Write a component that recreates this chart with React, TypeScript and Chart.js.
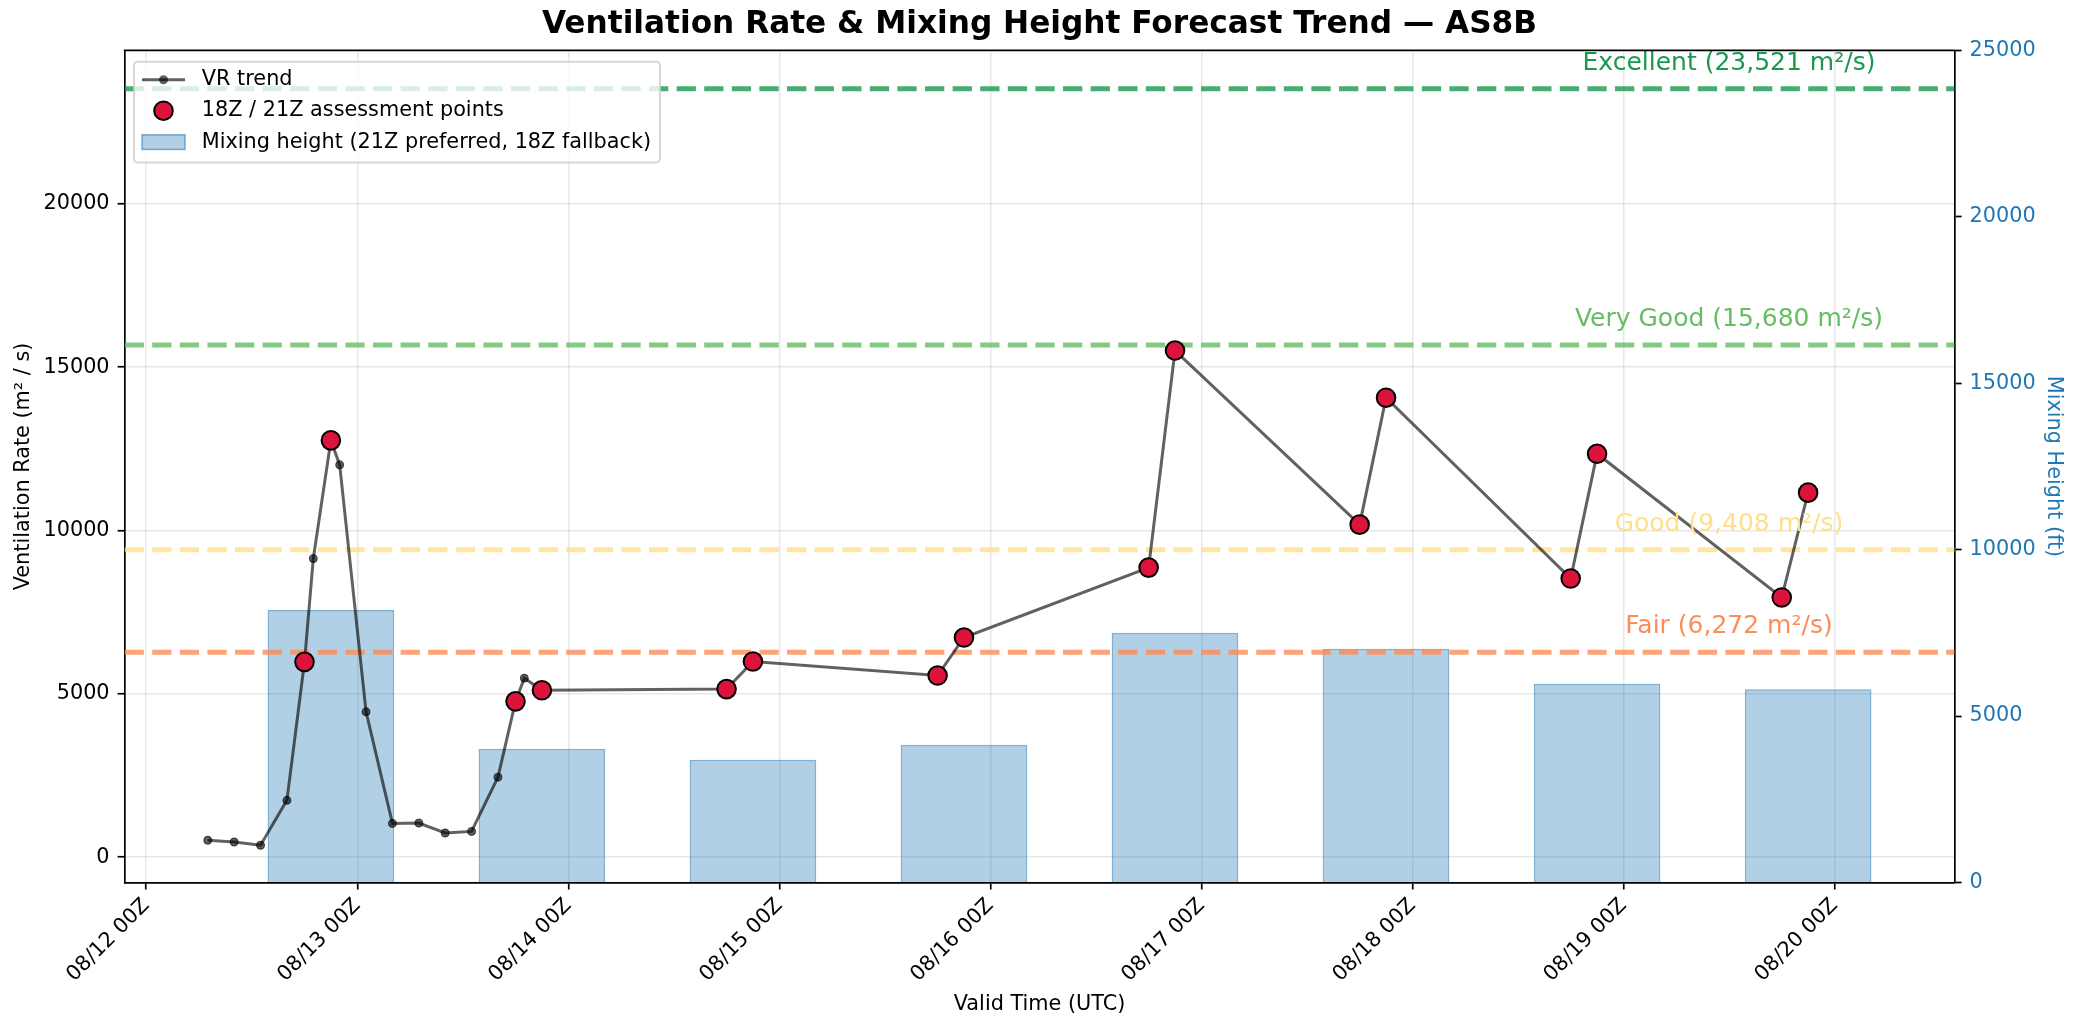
import { useEffect, useRef } from 'react';
import Chart from 'chart.js/auto';

// VR trend + 18Z/21Z assessment points + mixing-height bars, AS8B.
const FONT = "'DejaVu Sans', 'Noto Sans', sans-serif";
const BLUE = '#1f77b4';
const GRID = 'rgba(176,176,176,0.3)';

// x values are hours since 08/12 00Z
const VR_HOURS = [7, 10, 13, 16, 18, 19, 21, 22, 25, 28, 31, 34, 37, 40, 42, 43, 45, 66, 69, 90, 93, 114, 117, 138, 141, 162, 165, 186, 189];
const VR_VALUES = [520, 465, 365, 1740, 5980, 9140, 12760, 12010, 4450, 1035, 1045, 740, 790, 2450, 4770, 5480, 5110, 5145, 5990, 5560, 6725, 8865, 15510, 10180, 14065, 8530, 12350, 7950, 11160];

const ASSESS_HOURS = [18, 21, 42, 45, 66, 69, 90, 93, 114, 117, 138, 141, 162, 165, 186, 189];
const ASSESS_VALUES = [5980, 12760, 4770, 5110, 5145, 5990, 5560, 6725, 8865, 15510, 10180, 14065, 8530, 12350, 7950, 11160];

const MIX_HOURS = [21, 45, 69, 93, 117, 141, 165, 189];
const MIX_HEIGHTS = [8190, 4020, 3690, 4140, 7505, 7025, 5975, 5805];

const THRESH_NAMES = ['Excellent', 'Very Good', 'Good', 'Fair'];
const THRESH_VALUES = [23521, 15680, 9408, 6272];
const THRESH_COLORS = ['#1a9850', '#66bd63', '#fee08b', '#fc8d59'];
const THRESH_LINE = ['rgba(26,152,80,0.8)', 'rgba(102,189,99,0.8)', 'rgba(254,224,139,0.8)', 'rgba(252,141,89,0.8)'];
const LABEL_HOUR = 180;

const X_TICKS = [0, 24, 48, 72, 96, 120, 144, 168, 192];
const X_LABELS = ['08/12 00Z', '08/13 00Z', '08/14 00Z', '08/15 00Z', '08/16 00Z', '08/17 00Z', '08/18 00Z', '08/19 00Z', '08/20 00Z'];
const Y_TICKS = [0, 5000, 10000, 15000, 20000];
const Y2_TICKS = [0, 5000, 10000, 15000, 20000, 25000];

const X_MIN = -2.46;
const X_MAX = 205.66;
const Y_MIN = -775;
const Y_MAX = 24697;
const Y2_MIN = 0;
const Y2_MAX = 25000;

const LEGEND_LABELS = ['VR trend', '18Z / 21Z assessment points', 'Mixing height (21Z preferred, 18Z fallback)'];

const fmt = (n: number) => n.toLocaleString('en-US');

const framePlugin = {
  id: 'frameTop',
  afterDraw(chart: any) {
    const { ctx, chartArea: a } = chart;
    ctx.save();
    ctx.strokeStyle = '#000';
    ctx.lineWidth = 1.7;
    ctx.beginPath();
    ctx.moveTo(a.left - 0.85, a.top);
    ctx.lineTo(a.right + 0.85, a.top);
    ctx.stroke();
    ctx.restore();
  },
};

const thresholdLabels = {
  id: 'thresholdLabels',
  afterDatasetsDraw(chart: any) {
    const { ctx, scales } = chart;
    ctx.save();
    ctx.font = `25px ${FONT}`;
    ctx.textAlign = 'center';
    ctx.textBaseline = 'alphabetic';
    THRESH_VALUES.forEach((v, i) => {
      ctx.fillStyle = THRESH_COLORS[i];
      const x = scales.x.getPixelForValue(LABEL_HOUR);
      const y = scales.y.getPixelForValue(v) - 19;
      ctx.fillText(`${THRESH_NAMES[i]} (${fmt(v)} m²/s)`, x, y);
    });
    ctx.restore();
  },
};

const legendBox = {
  id: 'legendBox',
  afterDraw(chart: any) {
    const { ctx, chartArea: a } = chart;
    const left = a.left + 9.4;
    const top = a.top + 11.3;
    const w = 526;
    const h = 100.8;
    ctx.save();
    ctx.beginPath();
    ctx.roundRect(left, top, w, h, 4);
    ctx.fillStyle = 'rgba(255,255,255,0.8)';
    ctx.fill();
    ctx.strokeStyle = 'rgba(204,204,204,0.8)';
    ctx.lineWidth = 2;
    ctx.stroke();

    const rows = [top + 18, top + 49, top + 80.4];
    const hx0 = left + 8;
    const hx1 = left + 51;
    const hc = (hx0 + hx1) / 2;

    // VR trend handle
    ctx.strokeStyle = 'rgba(0,0,0,0.62)';
    ctx.lineWidth = 3;
    ctx.beginPath();
    ctx.moveTo(hx0, rows[0]);
    ctx.lineTo(hx1, rows[0]);
    ctx.stroke();
    ctx.fillStyle = 'rgba(0,0,0,0.62)';
    ctx.beginPath();
    ctx.arc(hc, rows[0], 4.5, 0, Math.PI * 2);
    ctx.fill();

    // assessment handle
    ctx.fillStyle = '#dc143c';
    ctx.strokeStyle = '#000';
    ctx.lineWidth = 2;
    ctx.beginPath();
    ctx.arc(hc, rows[1], 9.3, 0, Math.PI * 2);
    ctx.fill();
    ctx.stroke();

    // mixing height handle
    ctx.fillStyle = 'rgba(31,119,180,0.35)';
    ctx.fillRect(hx0, rows[2] - 7.3, hx1 - hx0, 14.6);
    ctx.strokeStyle = 'rgba(31,119,180,0.58)';
    ctx.lineWidth = 1.5;
    ctx.strokeRect(hx0, rows[2] - 7.3, hx1 - hx0, 14.6);

    ctx.fillStyle = '#000';
    ctx.font = `20.8px ${FONT}`;
    ctx.textAlign = 'left';
    ctx.textBaseline = 'middle';
    LEGEND_LABELS.forEach((t, i) => ctx.fillText(t, left + 67.8, rows[i]));
    ctx.restore();
  },
};

export default function App() {
  const canvasRef = useRef<HTMLCanvasElement | null>(null);

  useEffect(() => {
    const el = canvasRef.current;
    if (!el) return;

    const thresholdSets = THRESH_VALUES.map((v, i) => ({
      type: 'line' as const,
      label: THRESH_NAMES[i],
      data: [
        { x: X_MIN, y: v },
        { x: X_MAX, y: v },
      ],
      yAxisID: 'y',
      borderColor: THRESH_LINE[i],
      borderWidth: 5,
      borderDash: [19.3, 8.3],
      pointRadius: 0,
      order: 3,
    }));

    const chart = new Chart(el, {
      type: 'bar',
      data: {
        datasets: [
          {
            type: 'bar',
            label: 'Mixing height (21Z preferred, 18Z fallback)',
            data: MIX_HOURS.map((x, i) => ({ x, y: MIX_HEIGHTS[i] })),
            yAxisID: 'y2',
            backgroundColor: 'rgba(31,119,180,0.35)',
            borderColor: 'rgba(31,119,180,0.58)',
            borderWidth: 1.5,
            barPercentage: 0.6,
            categoryPercentage: 1,
            order: 5,
          },
          ...thresholdSets,
          {
            type: 'line',
            label: 'VR trend',
            data: VR_HOURS.map((x, i) => ({ x, y: VR_VALUES[i] })),
            yAxisID: 'y',
            borderColor: 'rgba(0,0,0,0.62)',
            borderWidth: 3,
            pointRadius: 3.9,
            pointBorderWidth: 1.2,
            pointBackgroundColor: 'rgba(0,0,0,0.62)',
            pointBorderColor: 'rgba(0,0,0,0.62)',
            tension: 0,
            order: 2,
          },
          {
            type: 'line',
            label: '18Z / 21Z assessment points',
            data: ASSESS_HOURS.map((x, i) => ({ x, y: ASSESS_VALUES[i] })),
            yAxisID: 'y',
            showLine: false,
            pointRadius: 9.3,
            pointBorderWidth: 2,
            pointBackgroundColor: '#dc143c',
            pointBorderColor: '#000',
            order: 1,
          },
        ] as any,
      },
      options: {
        animation: false,
        responsive: true,
        maintainAspectRatio: false,
        layout: { padding: 0 },
        plugins: {
          legend: { display: false },
          tooltip: { enabled: false },
          title: {
            display: true,
            text: 'Ventilation Rate & Mixing Height Forecast Trend — AS8B',
            color: '#000',
            font: { family: FONT, size: 31.2, weight: 'bold' },
            padding: { top: 6.5, bottom: 6.5 },
          },
        },
        scales: {
          x: {
            type: 'linear',
            offset: false,
            min: X_MIN,
            max: X_MAX,
            afterBuildTicks: (s: any) => {
              s.ticks = X_TICKS.map((value) => ({ value }));
            },
            afterFit: (s: any) => {
              s.height = 149.5;
            },
            ticks: {
              autoSkip: false,
              minRotation: 45,
              maxRotation: 45,
              padding: 4,
              color: '#000',
              font: { family: FONT, size: 20.8 },
              callback: (v: any) => X_LABELS[X_TICKS.indexOf(Number(v))] ?? '',
            },
            grid: { offset: false, color: GRID, lineWidth: 1.5, tickColor: '#000', tickWidth: 1.7, tickLength: 7 },
            border: { color: '#000', width: 1.7 },
            title: {
              display: true,
              text: 'Valid Time (UTC)',
              color: '#000',
              font: { family: FONT, size: 20.8 },
              padding: { top: 0, bottom: 14.5 },
            },
          },
          y: {
            type: 'linear',
            position: 'left',
            min: Y_MIN,
            max: Y_MAX,
            afterBuildTicks: (s: any) => {
              s.ticks = Y_TICKS.map((value) => ({ value }));
            },
            afterFit: (s: any) => {
              s.width = 124.6;
            },
            ticks: {
              padding: 8,
              color: '#000',
              font: { family: FONT, size: 20.8 },
              callback: (v: any) => String(v),
            },
            grid: { color: GRID, lineWidth: 1.5, tickColor: '#000', tickWidth: 1.7, tickLength: 7 },
            border: { color: '#000', width: 1.7 },
            title: {
              display: true,
              text: 'Ventilation Rate (m² / s)',
              color: '#000',
              font: { family: FONT, size: 20.8 },
              padding: { top: 11.5, bottom: 0 },
            },
          },
          y2: {
            type: 'linear',
            position: 'right',
            min: Y2_MIN,
            max: Y2_MAX,
            afterBuildTicks: (s: any) => {
              s.ticks = Y2_TICKS.map((value) => ({ value }));
            },
            afterFit: (s: any) => {
              s.width = 124.4;
            },
            ticks: {
              padding: 8,
              color: BLUE,
              font: { family: FONT, size: 20.8 },
              callback: (v: any) => String(v),
            },
            grid: { drawOnChartArea: false, tickColor: '#000', tickWidth: 1.7, tickLength: 7 },
            border: { color: '#000', width: 1.7 },
            title: {
              display: true,
              text: 'Mixing Height (ft)',
              color: BLUE,
              font: { family: FONT, size: 20.8 },
              padding: { top: 13.5, bottom: 0 },
            },
          },
        },
      },
      plugins: [framePlugin, thresholdLabels, legendBox],
    });

    return () => chart.destroy();
  }, []);

  return (
    <div style={{ position: 'fixed', left: 0, top: 0, width: 2079, height: 1032, background: '#fff' }}>
      <canvas ref={canvasRef} />
    </div>
  );
}
